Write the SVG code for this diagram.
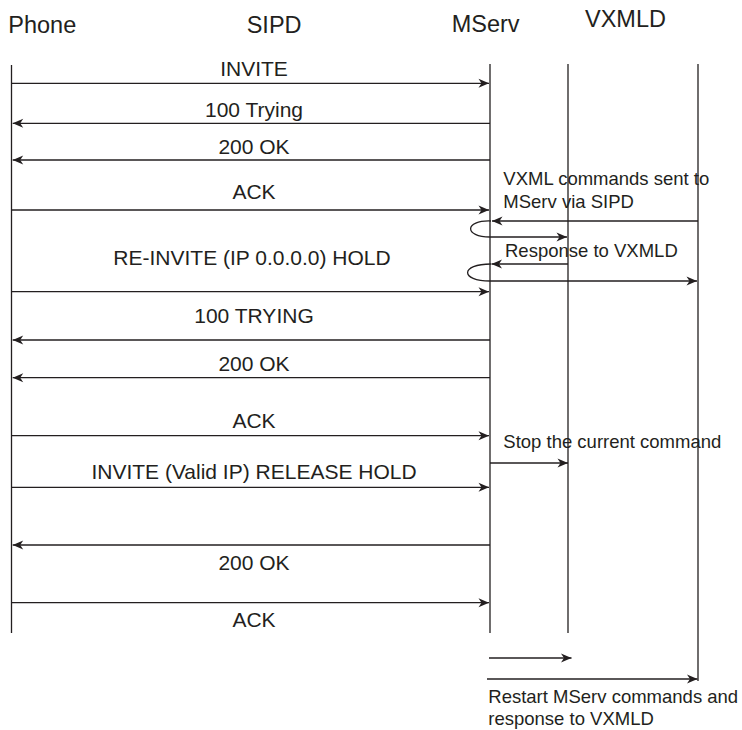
<svg xmlns="http://www.w3.org/2000/svg" width="742" height="730" viewBox="0 0 742 730">
<style>
text { font-family: "Liberation Sans", Arial, sans-serif; fill: #231f20; }
.hdr { font-size: 23.5px; }
.msg { font-size: 21px; text-anchor: middle; }
.note { font-size: 18.5px; }
.life { stroke: #231f20; stroke-width: 1.3; fill: none; }
.arr { stroke: #231f20; stroke-width: 1.3; fill: none; marker-end: url(#ah); }
</style>
<defs>
<marker id="ah" markerUnits="userSpaceOnUse" markerWidth="12" markerHeight="10" viewBox="0 0 12 10" refX="11" refY="5" orient="auto" overflow="visible">
<path d="M11,5 L0.5,0.5 L3.5,5 L0.5,9.5 Z" fill="#231f20"/>
</marker>
</defs>
<rect width="742" height="730" fill="#ffffff"/>
<g id="phone">
<text class="hdr" x="8.3" y="33">Phone</text>
<line class="life" x1="11.5" y1="65" x2="11.5" y2="633"/>
</g>
<g id="sipd">
<text class="hdr" x="246.7" y="33">SIPD</text>
</g>
<g id="mserv">
<text class="hdr" x="451.7" y="32">MServ</text>
<line class="life" x1="490" y1="64" x2="490" y2="633"/>
</g>
<g id="mid">
<line class="life" x1="568" y1="64" x2="568" y2="633"/>
</g>
<g id="vxmld">
<text class="hdr" x="585" y="27">VXMLD</text>
<line class="life" x1="698" y1="64" x2="698" y2="681"/>
</g>
<g id="connectors">
<line class="arr" x1="11.5" y1="83.3" x2="489" y2="83.3"/>
<line class="arr" x1="490" y1="123.3" x2="12.7" y2="123.3"/>
<line class="arr" x1="490" y1="160" x2="12.7" y2="160"/>
<line class="arr" x1="11.5" y1="210" x2="489" y2="210"/>
<line class="arr" x1="698" y1="221" x2="492" y2="221"/>
<path class="arr" d="M491,221 C464,220 464,237 490,237 L567,237"/>
<line class="arr" x1="568" y1="264" x2="491.5" y2="264"/>
<path class="arr" d="M491,264 C460,264 460,281 490,281 L697,281"/>
<line class="arr" x1="11.5" y1="291.7" x2="489" y2="291.7"/>
<line class="arr" x1="490" y1="340" x2="12.7" y2="340"/>
<line class="arr" x1="490" y1="377.7" x2="12.7" y2="377.7"/>
<line class="arr" x1="11.5" y1="435.7" x2="489" y2="435.7"/>
<line class="arr" x1="490" y1="463" x2="568" y2="463"/>
<line class="arr" x1="11.5" y1="487.3" x2="489" y2="487.3"/>
<line class="arr" x1="490" y1="545" x2="12.7" y2="545"/>
<line class="arr" x1="11.5" y1="602.7" x2="489" y2="602.7"/>
<line class="arr" x1="489" y1="658" x2="571.5" y2="658"/>
<line class="arr" x1="487" y1="679" x2="697.5" y2="679"/>
</g>
<g id="labels">
<text class="msg" x="254" y="76">INVITE</text>
<text class="msg" x="254" y="116.7">100 Trying</text>
<text class="msg" x="254" y="154.3">200 OK</text>
<text class="msg" x="254" y="199.3">ACK</text>
<text class="msg" x="252" y="265">RE-INVITE (IP 0.0.0.0) HOLD</text>
<text class="msg" x="254" y="323.3">100 TRYING</text>
<text class="msg" x="254" y="371">200 OK</text>
<text class="msg" x="254" y="428.3">ACK</text>
<text class="msg" x="254" y="479.3">INVITE (Valid IP) RELEASE HOLD</text>
<text class="msg" x="254" y="570">200 OK</text>
<text class="msg" x="254" y="626.7">ACK</text>
<text class="note" x="503.3" y="185">VXML commands sent to</text>
<text class="note" x="503.3" y="208.3">MServ via SIPD</text>
<text class="note" x="505" y="256.7">Response to VXMLD</text>
<text class="note" x="503.3" y="448.3">Stop the current command</text>
<text class="note" x="488.3" y="702.7">Restart MServ commands and</text>
<text class="note" x="488.3" y="725">response to VXMLD</text>
</g>
</svg>
